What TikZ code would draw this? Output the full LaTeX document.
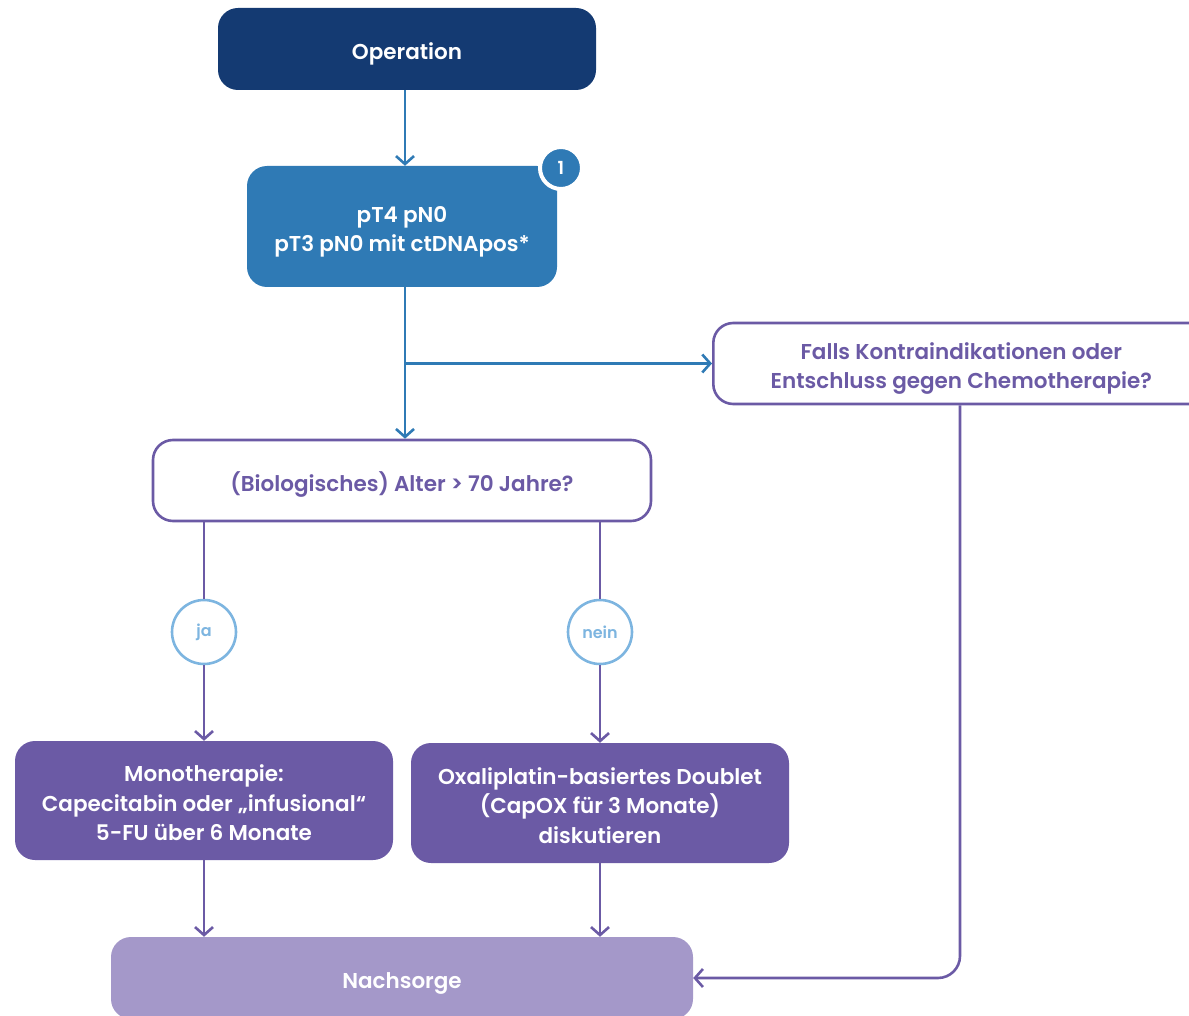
\documentclass[tikz,border=0pt]{standalone}
\usepackage{fontspec}
\setmainfont{Poppins}[Ligatures=NoCommon, BoldFont={Poppins SemiBold}]
\usetikzlibrary{arrows.meta}
\definecolor{navy}{HTML}{143A72}
\definecolor{midblue}{HTML}{2F7AB5}
\definecolor{violet}{HTML}{6B5AA5}
\definecolor{lilac}{HTML}{A498C9}
\definecolor{skyblue}{HTML}{7DB5E0}
% struts at the start of the first and the end of the last line,
% so that the cap height sits on the node centre
\newcommand\capup{\rule{0pt}{30pt}}
\newcommand\capdown{\rule[-8.8pt]{0pt}{0pt}}
\tikzset{
  box/.style={rounded corners=20pt, inner sep=0pt, align=center,
    font=\fontsize{21.5}{29.5}\selectfont\bfseries},
  question/.style={box, draw=violet, line width=2.6pt, fill=white, text=violet},
  filled/.style={box, text=white},
  answer/.style={circle, draw=skyblue, line width=2.6pt, fill=white, text=skyblue,
    minimum size=64pt, inner sep=0pt, font=\fontsize{16}{18}\selectfont\bfseries},
  link/.style={line width=2.6pt, -{Straight Barb[length=8pt,width=18pt,line width=2.6pt]}},
  bluelink/.style={link, draw=midblue},
  violetlink/.style={link, draw=violet},
}
\begin{document}
\begin{tikzpicture}[x=1pt,y=-1pt]
\useasboundingbox (0,0) rectangle (1189,1016);
\begin{scope}
\clip (0,0) rectangle (1189,1016);

\node[filled, fill=navy, minimum width=378pt, minimum height=82pt] (op) at (407,49)
  {\capup Operation\capdown};
\node[filled, fill=midblue, minimum width=310pt, minimum height=121pt] (pt) at (402,226.5)
  {\capup pT4 pN0\\pT3 pN0 mit ctDNApos*\capdown};
\node[circle, fill=midblue, draw=white, line width=4pt, minimum size=42pt, inner sep=0pt,
  text=white, font=\fontsize{18}{20}\selectfont\bfseries] (badge) at (561,168) {1};

\node[question, minimum width=496pt, minimum height=81pt, anchor=west] (contra) at (712,363.5)
  {\capup Falls Kontraindikationen oder\\Entschluss gegen Chemotherapie?\capdown};

\node[question, minimum width=498pt, minimum height=81pt] (age) at (402,480.5)
  {\capup (Biologisches) Alter > 70 Jahre?\capdown};

\node[answer] (ja) at (204,632) {ja};
\node[answer] (nein) at (600,632) {nein};

\node[filled, fill=violet, minimum width=378pt, minimum height=119pt] (mono) at (204,800.5)
  {\capup Monotherapie:\\Capecitabin oder „infusional“\\5-FU über 6 Monate\capdown};
\node[filled, fill=violet, minimum width=378pt, minimum height=120pt] (oxa) at (600,803)
  {\capup Oxaliplatin-basiertes Doublet\\(CapOX für 3 Monate)\\diskutieren\capdown};

\node[filled, fill=lilac, minimum width=582pt, minimum height=82pt] (follow) at (402,978)
  {\capup Nachsorge\capdown};

\coordinate (split) at (405,363.5);
\coordinate (bend) at (960,978);

% blue trunk
\draw[bluelink] (op.south -| 405,0) -- (pt.north -| 405,0);
\draw[bluelink] (pt.south -| 405,0) -- (age.north -| 405,0);
\draw[bluelink] (split) -- (contra.west);

% age decision
\draw[line width=2.6pt, violet] (age.south -| ja) -- (ja.north);
\draw[violetlink] (ja.south) -- (mono.north -| ja);
\draw[line width=2.6pt, violet] (age.south -| nein) -- (nein.north);
\draw[violetlink] (nein.south) -- (oxa.north -| nein);

% into follow-up
\draw[violetlink] (mono.south) -- (follow.north -| mono);
\draw[violetlink] (oxa.south) -- (follow.north -| oxa);
\draw[violetlink, rounded corners=22pt] (contra.south -| bend) -- (bend) -- (follow.east |- bend);
\end{scope}
\end{tikzpicture}
\end{document}
